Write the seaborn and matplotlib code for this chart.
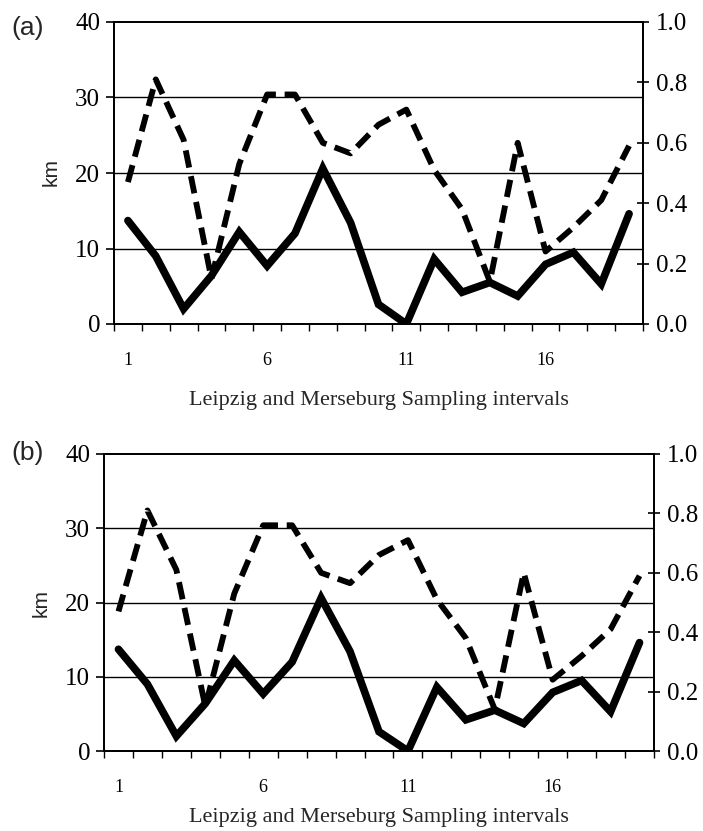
import matplotlib
matplotlib.use("Agg")
import matplotlib.pyplot as plt
import seaborn as sns
import pandas as pd
import numpy as np

# ---- data ----
intervals = list(range(1, 20))
km_values = [13.7, 9.0, 2.0, 6.4, 12.2, 7.7, 12.0, 20.6, 13.4, 2.6, 0.0,
             8.6, 4.2, 5.5, 3.7, 7.9, 9.5, 5.3, 14.6]
ratio_values = [0.47, 0.81, 0.61, 0.15, 0.53, 0.76, 0.76, 0.60, 0.565, 0.66,
                0.71, 0.51, 0.38, 0.14, 0.60, 0.24, 0.32, 0.41, 0.59]
x_tick_labels = ["1", "6", "11", "16"]
x_tick_pos = [1, 6, 11, 16]
left_ticks = [0, 10, 20, 30, 40]
right_ticks = [0.0, 0.2, 0.4, 0.6, 0.8, 1.0]
panel_labels = ["(a)", "(b)"]
xlabel_text = "Leipzig and Merseburg Sampling intervals"

df = pd.DataFrame({"interval": intervals, "km": km_values, "ratio": ratio_values})

sns.set_style("ticks")
plt.rcParams["font.family"] = ["Liberation Serif", "DejaVu Serif"]

W, H = 703, 831
fig = plt.figure(figsize=(W / 100, H / 100), dpi=100)

# panel geometry in pixels: left, right, top, bottom
geoms = [(114, 643, 22, 324), (104, 654, 454, 751)]
panel_lab_pos = [(28, 28), (28, 453)]
km_pos = [(51, 172), (41, 603)]
label_pads = [16, 9]

for i, (l, r, t, b) in enumerate(geoms):
    ax = fig.add_axes([l / W, 1 - b / H, (r - l) / W, (b - t) / H])
    ax2 = ax.twinx()

    ax.set_ylim(0, 40)
    ax.set_xlim(0.5, 19.5)
    ax2.set_ylim(0, 1.0)

    # gridlines (left-axis majors)
    for yv in [10, 20, 30]:
        ax.axhline(yv, color="black", lw=1.0, zorder=1)

    sns.lineplot(data=df, x="interval", y="km", ax=ax, color="black",
                 linewidth=5.5, solid_joinstyle="miter", zorder=3)
    sns.lineplot(data=df, x="interval", y="ratio", ax=ax2, color="black",
                 linewidth=4.2, linestyle=(0, (3, 1.5)), zorder=3)

    for a in (ax, ax2):
        for s in a.spines.values():
            s.set_color("black")
            s.set_linewidth(1.3)
            s.set_visible(True)

    ax.set_yticks(left_ticks)
    ax.set_yticklabels([str(v) for v in left_ticks], fontsize=18)
    ax.tick_params(axis="y", direction="out", length=6, width=1.2, pad=4,
                   colors="black")

    ax2.set_yticks(right_ticks)
    ax2.set_yticklabels([f"{v:.1f}" for v in right_ticks], fontsize=18)
    ax2.tick_params(axis="y", direction="inout", length=9, width=1.2, pad=5,
                    colors="black")

    ax.set_xticks(x_tick_pos)
    ax.set_xticklabels(x_tick_labels, fontsize=13)
    ax.set_xticks(np.arange(0.5, 20.0, 1.0), minor=True)
    ax.tick_params(axis="x", which="major", length=0, pad=20, colors="black")
    ax.tick_params(axis="x", which="minor", direction="out", length=5,
                   width=1.0, colors="black")

    ax.set_xlabel(xlabel_text, fontsize=16, labelpad=label_pads[i])
    ax.set_ylabel("")
    ax2.set_ylabel("")

    fig.text(panel_lab_pos[i][0] / W, 1 - panel_lab_pos[i][1] / H,
             panel_labels[i], family=["Liberation Sans", "DejaVu Sans"],
             fontsize=19, ha="center", va="center")
    fig.text(km_pos[i][0] / W, 1 - km_pos[i][1] / H, "km",
             family=["Liberation Sans", "DejaVu Sans"], fontsize=15,
             rotation=90, ha="center", va="center")

fig.savefig("out.png", dpi=100)
